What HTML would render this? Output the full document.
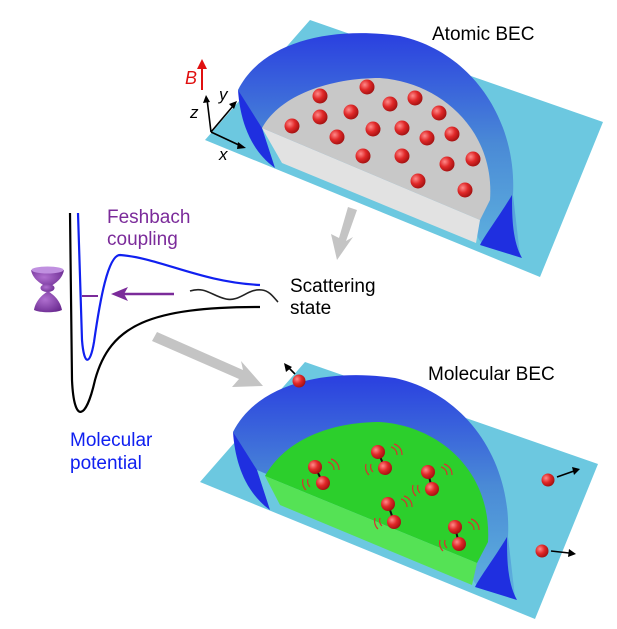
<!DOCTYPE html>
<html><head><meta charset="utf-8"><style>html,body{margin:0;padding:0;background:#fff}svg{display:block}text{font-family:"Liberation Sans",sans-serif}</style></head><body>
<svg width="617" height="629" viewBox="0 0 617 629" xmlns="http://www.w3.org/2000/svg">
<defs>
<linearGradient id="dome" x1="0" y1="0" x2="0" y2="1"><stop offset="0" stop-color="#2a3fe0"/><stop offset="0.5" stop-color="#4a8ad6"/><stop offset="1" stop-color="#5fb3de"/></linearGradient>
<radialGradient id="ball" cx="0.35" cy="0.35" r="0.7"><stop offset="0" stop-color="#ff8a8a"/><stop offset="0.5" stop-color="#e02828"/><stop offset="1" stop-color="#a01010"/></radialGradient>
<radialGradient id="trap" cx="0.4" cy="0.4" r="0.7"><stop offset="0" stop-color="#b070d0"/><stop offset="1" stop-color="#6a2a90"/></radialGradient>
<g id="scene">
<polygon points="310,20 603,122 540,277 205,140" fill="#6cc8e0"/>
<path d="M238,90 C262,42 330,26 400,36 C472,52 517,120 513,195 L520,255 L490,248 C470,240 478,222 480,220 L262,128 C255,120 245,105 238,90 Z" fill="url(#dome)"/>
<path d="M238,90 C240,120 250,150 275,168 L262,128 Z" fill="#1f2fe0"/>
<path d="M512,195 C500,215 485,235 480,245 L522,258 C512,240 512,215 512,195 Z" fill="#1f2fe0"/>
</g>
</defs>
<use href="#scene"/>
<path d="M262,128 C280,95 330,78 380,78 C440,82 495,130 490,200 L480,220 Z" fill="#c8c8c8"/>
<polygon points="262,128 480,220 476,243 282,163" fill="#e2e2e2"/>
<g fill="url(#ball)">
<circle cx="367" cy="87" r="7.5"/><circle cx="320" cy="96" r="7.5"/><circle cx="415" cy="98" r="7.5"/><circle cx="390" cy="104" r="7.5"/><circle cx="351" cy="112" r="7.5"/><circle cx="320" cy="117" r="7.5"/><circle cx="439" cy="113" r="7.5"/><circle cx="292" cy="126" r="7.5"/><circle cx="373" cy="129" r="7.5"/><circle cx="402" cy="128" r="7.5"/><circle cx="337" cy="137" r="7.5"/><circle cx="427" cy="138" r="7.5"/><circle cx="452" cy="134" r="7.5"/><circle cx="363" cy="156" r="7.5"/><circle cx="402" cy="156" r="7.5"/><circle cx="447" cy="164" r="7.5"/><circle cx="473" cy="159" r="7.5"/><circle cx="418" cy="181" r="7.5"/><circle cx="465" cy="190" r="7.5"/>
</g>
<g stroke="#000" stroke-width="1.6" fill="none"><path d="M211,132 L207,99 M211,132 L233,106 M211,132 L241,146"/></g>
<g fill="#000"><polygon points="206,95 203,103 210,102"/><polygon points="237,101 229,104 234,109"/><polygon points="246,148 238,142 237,149"/></g>
<line x1="202" y1="90" x2="202" y2="66" stroke="#e01010" stroke-width="2"/><polygon points="202,59 197,69 207,69" fill="#e01010"/>
<text x="185" y="84" font-size="18" font-style="italic" fill="#e01010">B</text>
<text x="190" y="118" font-size="17" font-style="italic">z</text>
<text x="219" y="100" font-size="17" font-style="italic">y</text>
<text x="219" y="160" font-size="17" font-style="italic">x</text>
<text x="432" y="40" font-size="19">Atomic BEC</text>
<g transform="translate(-5,342)"><use href="#scene"/></g>
<path d="M265,476 C285,440 330,422 380,422 C440,426 492,472 488,542 L477,563 Z" fill="#2ccf2c"/>
<polygon points="265,476 477,563 472,585 280,505" fill="#55e255"/>
<g stroke="#d83030" stroke-width="1.2" fill="none">
<path d="M328,462 a8,8 0 0 1 6,8 M331,459 a11,11 0 0 1 8,11"/><path d="M310,487 a8,8 0 0 1 -2,-8 M306,490 a11,11 0 0 1 -3,-11"/>
<path d="M391,447 a8,8 0 0 1 6,8 M394,444 a11,11 0 0 1 8,11"/><path d="M373,472 a8,8 0 0 1 -2,-8 M369,475 a11,11 0 0 1 -3,-11"/>
<path d="M441,467 a8,8 0 0 1 6,8 M444,464 a11,11 0 0 1 8,11"/><path d="M420,493 a8,8 0 0 1 -2,-8 M416,496 a11,11 0 0 1 -3,-11"/>
<path d="M401,499 a8,8 0 0 1 6,8 M404,496 a11,11 0 0 1 8,11"/><path d="M382,526 a8,8 0 0 1 -2,-8 M378,529 a11,11 0 0 1 -3,-11"/>
<path d="M468,522 a8,8 0 0 1 6,8 M471,519 a11,11 0 0 1 8,11"/><path d="M447,548 a8,8 0 0 1 -2,-8 M443,551 a11,11 0 0 1 -3,-11"/>
</g>
<g stroke="#111" stroke-width="2"><line x1="315" y1="467" x2="323" y2="483"/><line x1="378" y1="452" x2="385" y2="468"/><line x1="428" y1="472" x2="432" y2="489"/><line x1="388" y1="504" x2="394" y2="522"/><line x1="455" y1="527" x2="459" y2="544"/></g>
<g fill="url(#ball)">
<circle cx="315" cy="467" r="7"/><circle cx="323" cy="483" r="7"/><circle cx="378" cy="452" r="7"/><circle cx="385" cy="468" r="7"/><circle cx="428" cy="472" r="7"/><circle cx="432" cy="489" r="7"/><circle cx="388" cy="504" r="7"/><circle cx="394" cy="522" r="7"/><circle cx="455" cy="527" r="7"/><circle cx="459" cy="544" r="7"/>
<circle cx="299" cy="381" r="6.5"/><circle cx="548" cy="480" r="6.5"/><circle cx="542" cy="551" r="6.5"/>
</g>
<g stroke="#000" stroke-width="1.6"><line x1="295" y1="374" x2="288" y2="367"/><line x1="557" y1="477" x2="574" y2="471"/><line x1="551" y1="551" x2="569" y2="553"/></g>
<g fill="#000"><polygon points="284,363 286,372 292,367"/><polygon points="580,469 572,467 574,475"/><polygon points="576,554 569,549 568,557"/></g>
<text x="428" y="380" font-size="19">Molecular BEC</text>
<g fill="#c4c4c4"><polygon points="348,207 357,210 346,241 353,237 337,260 331,234 339,238"/>
<polygon points="152,341 157,332 243,370 241,361 263,386 232,387 239,379"/></g>
<path d="M70,213 L72,380 C74,425 86,420 95,380 C110,325 150,307 260,307" stroke="#000" stroke-width="2.2" fill="none"/>
<path d="M78,213 L82,340 C84,366 90,366 94,342 C100,300 108,255 120,255 C160,258 200,282 260,285" stroke="#1020f0" stroke-width="2.2" fill="none"/>
<line x1="82" y1="296" x2="98" y2="296" stroke="#7b2b9a" stroke-width="2"/>
<line x1="174" y1="294" x2="124" y2="294" stroke="#7b2b9a" stroke-width="2.5"/><polygon points="111,294 128,287 124,294 128,301" fill="#7b2b9a"/>
<path d="M190,291 C205,286 212,296 226,299 C240,302 248,288 262,290 C270,291 274,298 278,302" stroke="#222" stroke-width="1.6" fill="none"/>
<g fill="url(#trap)"><path d="M31,270 C40,274 55,274 64,270 C62,281 52,285 48,288 C44,285 33,281 31,270 Z"/><ellipse cx="47.5" cy="288" rx="7" ry="4"/><path d="M34,310 C40,313 56,313 62,310 C60,299 52,294 48,291 C44,294 36,299 34,310 Z"/></g>
<ellipse cx="47.5" cy="270" rx="16" ry="3.5" fill="#c090e0"/>
<text x="107" y="223" font-size="19" fill="#7b2b9a">Feshbach</text>
<text x="107" y="245" font-size="19" fill="#7b2b9a">coupling</text>
<text x="290" y="292" font-size="19">Scattering</text>
<text x="290" y="314" font-size="19">state</text>
<text x="70" y="446" font-size="19" fill="#1020f0">Molecular</text>
<text x="70" y="469" font-size="19" fill="#1020f0">potential</text>
</svg>
</body></html>
